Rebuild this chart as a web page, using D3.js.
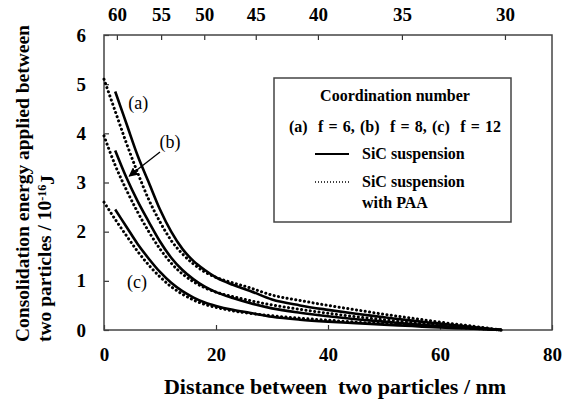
<!DOCTYPE html>
<html>
<head>
<meta charset="utf-8">
<script src="https://cdn.jsdelivr.net/npm/d3@7"></script>
<style>
  body { margin: 0; background: #fff; }
  svg text { font-family: "Liberation Serif", "Times New Roman", serif; fill: #000; }
</style>
</head>
<body>
<div id="chart"></div>
<script>
const FONT = "'Liberation Serif', 'Times New Roman', serif";

// distance between two particles (nm)
const solidDist = [2, 4, 6, 8, 10, 12, 14, 16, 18, 20, 23, 26, 30, 35, 40, 45, 50, 55, 60, 65, 71];
const dottedDist = [0, 2, 4, 6, 8, 10, 12, 14, 16, 18, 20, 23, 26, 30, 35, 40, 45, 50, 55, 60, 65, 71];

// consolidation energy (10^-16 J), SiC suspension
const solidA = [4.85, 4.2, 3.55, 3.0, 2.45, 2.0, 1.65, 1.4, 1.22, 1.07, 0.92, 0.8, 0.62, 0.5, 0.41, 0.33, 0.26, 0.19, 0.13, 0.07, 0.0];
const solidB = [3.65, 3.1, 2.62, 2.2, 1.8, 1.47, 1.22, 1.03, 0.88, 0.77, 0.65, 0.55, 0.44, 0.35, 0.28, 0.22, 0.17, 0.12, 0.08, 0.04, 0.0];
const solidC = [2.45, 2.1, 1.75, 1.45, 1.18, 0.96, 0.79, 0.66, 0.56, 0.49, 0.41, 0.35, 0.27, 0.21, 0.17, 0.14, 0.11, 0.08, 0.05, 0.03, 0.0];

// SiC suspension with PAA
const dottedA = [5.1, 4.45, 3.8, 3.2, 2.65, 2.2, 1.82, 1.55, 1.34, 1.18, 1.07, 0.96, 0.86, 0.71, 0.6, 0.5, 0.41, 0.32, 0.24, 0.16, 0.09, 0.0];
const dottedB = [3.95, 3.35, 2.85, 2.4, 2.0, 1.65, 1.36, 1.14, 0.98, 0.86, 0.77, 0.68, 0.6, 0.51, 0.42, 0.34, 0.27, 0.21, 0.15, 0.1, 0.05, 0.0];
const dottedC = [2.6, 2.25, 1.92, 1.6, 1.32, 1.08, 0.88, 0.73, 0.61, 0.52, 0.46, 0.39, 0.34, 0.29, 0.24, 0.2, 0.16, 0.13, 0.1, 0.07, 0.04, 0.0];

// ticks
const xTicks = [0, 20, 40, 60, 80];
const yTicks = [0, 1, 2, 3, 4, 5, 6];
const topTickLabels = [60, 55, 50, 45, 40, 35, 30];
const topTickDist = [2.3, 10.2, 17.9, 27.1, 38.2, 53.2, 71.6];

const margin = { top: 35, right: 21, bottom: 74, left: 104 };
const width = 573 - margin.left - margin.right;
const height = 404 - margin.top - margin.bottom;

const svgRoot = d3
  .select("#chart")
  .append("svg")
  .attr("width", 573)
  .attr("height", 404)
  .attr("font-family", FONT);

const svg = svgRoot
  .append("g")
  .attr("transform", `translate(${margin.left},${margin.top})`);

const x = d3.scaleLinear().domain([0, 80]).range([0, width]);
const y = d3.scaleLinear().domain([0, 6]).range([height, 0]);

// bottom axis, ticks inward
const xAxis = d3.axisBottom(x).tickValues(xTicks).tickFormat(d3.format("d"))
  .tickSizeInner(-5).tickSizeOuter(0).tickPadding(18);
const gx = svg.append("g").attr("transform", `translate(0,${height})`).call(xAxis);

// left axis, ticks inward
const yAxis = d3.axisLeft(y).tickValues(yTicks).tickFormat(d3.format("d"))
  .tickSizeInner(-5).tickSizeOuter(0).tickPadding(18);
const gy = svg.append("g").call(yAxis);

// top axis: coordination number
const topAxis = d3.axisTop(x).tickValues(topTickDist).tickSizeInner(-5).tickSizeOuter(0).tickPadding(14)
  .tickFormat((d, i) => topTickLabels[i]);
const gt = svg.append("g").call(topAxis);

[gx, gy, gt].forEach((g) => {
  g.attr("font-family", FONT);
  g.select(".domain").remove();
  g.selectAll(".tick line").attr("stroke", "#333").attr("stroke-width", 1.2);
  g.selectAll(".tick text")
    .style("font-family", FONT)
    .style("font-size", "19px")
    .style("font-weight", "bold")
    .attr("fill", "#000");
});

// frame
svg.append("rect")
  .attr("width", width)
  .attr("height", height)
  .attr("fill", "none")
  .attr("stroke", "#444")
  .attr("stroke-width", 1.5);

// curves
const line = (dist) => d3.line()
  .x((d, i) => x(dist[i]))
  .y((d) => y(d))
  .curve(d3.curveMonotoneX);

const curves = [
  { dist: solidDist, vals: solidA, dotted: false },
  { dist: solidDist, vals: solidB, dotted: false },
  { dist: solidDist, vals: solidC, dotted: false },
  { dist: dottedDist, vals: dottedA, dotted: true },
  { dist: dottedDist, vals: dottedB, dotted: true },
  { dist: dottedDist, vals: dottedC, dotted: true },
];

curves.forEach((c) => {
  svg.append("path")
    .datum(c.vals)
    .attr("d", line(c.dist))
    .attr("fill", "none")
    .attr("stroke", "#000")
    .attr("stroke-width", c.dotted ? 3 : 2.6)
    .attr("stroke-linecap", c.dotted ? "round" : "butt")
    .attr("stroke-dasharray", c.dotted ? "0.1,4.3" : null);
});

// curve labels
const curveLabels = [
  { t: "(a)", d: 6.1, v: 4.62 },
  { t: "(b)", d: 11.8, v: 3.82 },
  { t: "(c)", d: 5.9, v: 0.98 },
];
svg.selectAll(".clabel")
  .data(curveLabels)
  .enter()
  .append("text")
  .attr("class", "clabel")
  .attr("x", (d) => x(d.d))
  .attr("y", (d) => y(d.v))
  .attr("dy", "0.35em")
  .attr("text-anchor", "middle")
  .style("font-family", FONT)
  .style("font-size", "18px")
  .text((d) => d.t);

// arrow for (b)
svgRoot.append("defs").append("marker")
  .attr("id", "arrow")
  .attr("viewBox", "0 0 10 10")
  .attr("refX", 9)
  .attr("refY", 5)
  .attr("markerWidth", 7)
  .attr("markerHeight", 7)
  .attr("orient", "auto")
  .append("path")
  .attr("d", "M0,0 L10,5 L0,10 Z")
  .attr("fill", "#000");

svg.append("line")
  .attr("x1", x(10.0))
  .attr("y1", y(3.62))
  .attr("x2", x(4.5))
  .attr("y2", y(3.13))
  .attr("stroke", "#000")
  .attr("stroke-width", 1.3)
  .attr("marker-end", "url(#arrow)");

// legend
const legend = svgRoot.append("g").attr("transform", "translate(274,78)");
legend.append("rect")
  .attr("width", 237)
  .attr("height", 144)
  .attr("fill", "#fff")
  .attr("stroke", "#444")
  .attr("stroke-width", 1.5);

const legText = (txt, lx, ly, anchor) =>
  legend.append("text")
    .attr("x", lx)
    .attr("y", ly)
    .attr("text-anchor", anchor || "start")
    .style("font-family", FONT)
    .style("font-size", "16px")
    .style("font-weight", "bold")
    .style("white-space", "pre")
    .text(txt);

legText("Coordination number", 121, 23, "middle");
legText("(a)  f = 6, (b)  f = 8, (c)  f = 12", 121, 54, "middle").style("word-spacing", "1.2px");
legText("SiC suspension", 88, 81);
legText("SiC suspension", 88, 109);
legText("with PAA", 88, 130);

legend.append("line")
  .attr("x1", 41).attr("x2", 75).attr("y1", 76).attr("y2", 76)
  .attr("stroke", "#000").attr("stroke-width", 2.2);
legend.append("line")
  .attr("x1", 41).attr("x2", 75).attr("y1", 104).attr("y2", 104)
  .attr("stroke", "#000").attr("stroke-width", 1.4)
  .attr("stroke-dasharray", "1,2");

// axis titles
svgRoot.append("text")
  .attr("x", 335)
  .attr("y", 394)
  .attr("text-anchor", "middle")
  .style("font-family", FONT)
  .style("font-size", "22px")
  .style("font-weight", "bold")
  .style("white-space", "pre")
  .text("Distance between  two particles / nm");

const yTitle = svgRoot.append("g").attr("transform", "translate(0,342) rotate(-90)");
yTitle.append("text")
  .attr("x", 0)
  .attr("y", 29)
  .style("font-family", FONT)
  .style("font-size", "19.5px")
  .style("font-weight", "bold")
  .text("Consolidation energy applied between");
const y2 = yTitle.append("text")
  .attr("x", 0)
  .attr("y", 51)
  .style("font-family", FONT)
  .style("font-size", "19.5px")
  .style("font-weight", "bold");
y2.append("tspan").text("two particles / 10");
y2.append("tspan").attr("dy", "-0.45em").style("font-size", "12px").text("-16");
y2.append("tspan").attr("dy", "0.45em").text("J");
</script>
</body>
</html>
